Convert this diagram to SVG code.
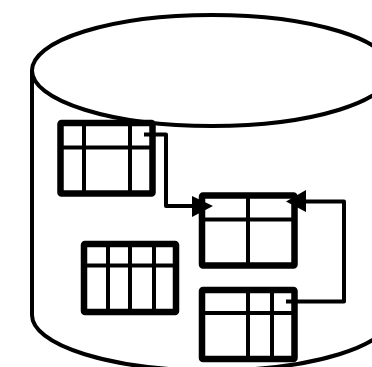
<svg xmlns="http://www.w3.org/2000/svg" width="372" height="367" viewBox="0 0 372 367">
<style>
.cyl{fill:#fff;stroke:#000;stroke-width:4}
.box{fill:#fff;stroke:#000;stroke-width:6.500}
.grid{fill:none;stroke:#000;stroke-width:4}
.conn{fill:none;stroke:#000;stroke-width:4;stroke-linejoin:round}
.head{fill:#000}
</style>
<rect width="372" height="367" fill="#fff"/>
<g id="cylinder">
<path class="cyl" d="M32 70.500V315A180 55.500 0 0 0 392 315V70.500"/>
<ellipse class="cyl" cx="212" cy="70.500" rx="180" ry="55.500"/>
</g>
<g id="table-1">
<rect class="box" x="60.500" y="123" width="92" height="70.500" rx="1"/>
<path class="grid" d="M62 147.500H151M84 125V191M130 125V191"/>
</g>
<g id="table-2">
<rect class="box" x="202" y="195.500" width="92.500" height="70" rx="1"/>
<path class="grid" d="M204 219.500H292M248 198V263"/>
</g>
<g id="table-3">
<rect class="box" x="84" y="244" width="92" height="68" rx="1"/>
<path class="grid" d="M86 265.500H174M108 246V310M130 246V310M154 246V310"/>
</g>
<g id="table-4">
<rect class="box" x="202" y="290" width="92.500" height="69" rx="1"/>
<path class="grid" d="M204 313H292M248 292V357M272 292V357"/>
</g>
<g id="connectors">
<path class="conn" d="M144 134.500H166V206H200"/>
<polygon class="head" points="213,206 192,196 192,217"/>
<path class="conn" d="M286 301.500H344V201.500H298"/>
<polygon class="head" points="286,201.500 306,190 306,212"/>
</g>
</svg>
